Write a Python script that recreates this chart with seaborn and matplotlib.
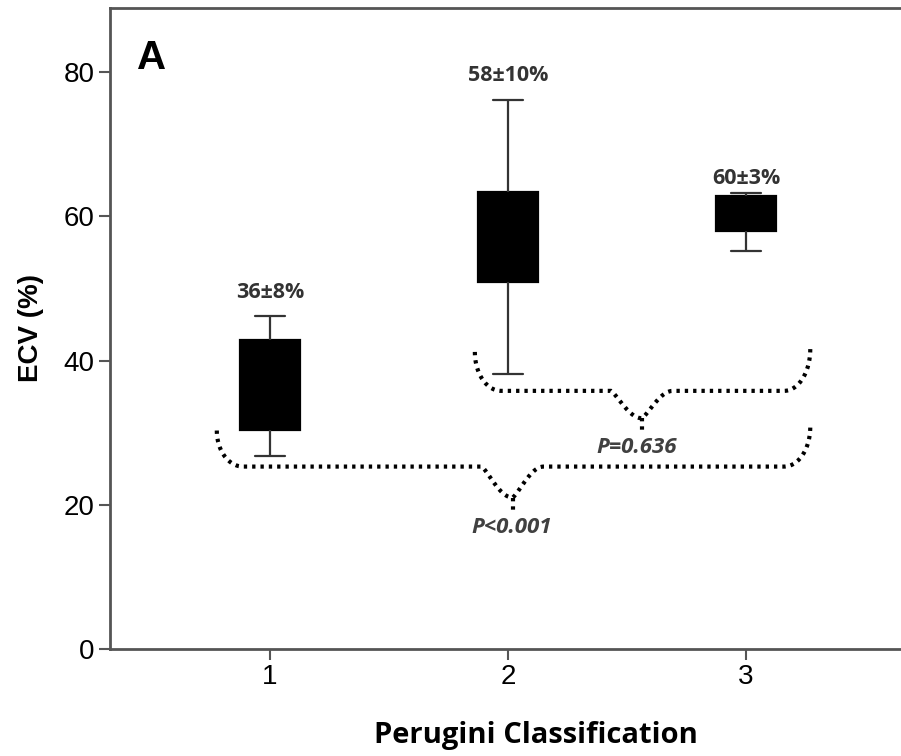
import numpy as np
import pandas as pd
import matplotlib
matplotlib.use("Agg")
import matplotlib.pyplot as plt
import seaborn as sns

# five-number summaries (whisker low, Q1, median, Q3, whisker high)
groups = ["1", "2", "3"]
whisker_low = [26.7, 38.2, 55.2]
q1 = [30.4, 50.9, 57.9]
median = [36.0, 57.0, 60.0]
q3 = [42.9, 63.4, 62.8]
whisker_high = [46.2, 76.2, 63.3]
mean_sd = ["36\u00b18%", "58\u00b110%", "60\u00b13%"]
p_values = ["P<0.001", "P=0.636"]

rows = []
for i, g in enumerate(groups):
    for v in (whisker_low[i], q1[i], median[i], q3[i], whisker_high[i]):
        rows.append({"Perugini": g, "ECV": v})
df = pd.DataFrame(rows)

sns.set_style("white")
plt.rcParams["font.family"] = ["Liberation Sans", "DejaVu Sans"]
plt.rcParams["text.color"] = "black"
plt.rcParams["axes.labelcolor"] = "black"
plt.rcParams["xtick.color"] = "black"
plt.rcParams["ytick.color"] = "black"
calibri_like = ["Open Sans", "DejaVu Sans"]

fig = plt.figure(figsize=(9.01, 7.56), dpi=100)
# the original panel runs past the right edge of the picture
ax = fig.add_axes([0.122, 0.1415, 0.9456, 0.848])

sns.boxplot(data=df, x="Perugini", y="ECV", order=groups, whis=(0, 100),
            width=0.252, color="black", linecolor="#333333", linewidth=1.6,
            showfliers=False, ax=ax,
            boxprops=dict(facecolor="black", edgecolor="black"),
            medianprops=dict(color="black"),
            capprops=dict(color="#333333"),
            whiskerprops=dict(color="#333333"))
# narrower caps
for line in ax.lines:
    xd = np.asarray(line.get_xdata(), dtype=float)
    yd = np.asarray(line.get_ydata(), dtype=float)
    if len(xd) == 2 and yd[0] == yd[1] and abs(xd[1] - xd[0]) > 0.05:
        c = xd.mean()
        if any(abs(yd[0] - w) < 1e-6 for w in whisker_low + whisker_high):
            line.set_xdata([c - 0.063, c + 0.063])

ax.set_xlim(-0.672, 2.907)
ax.set_ylim(0, 88.9)
ax.set_yticks([0, 20, 40, 60, 80])
ax.set_yticklabels(["0", "20", "40", "60", "80"])
ax.tick_params(axis="both", labelsize=20, length=8, width=1.5, color="#555555",
               labelcolor="black", direction="out", left=True, bottom=True, pad=3)
for s in ["left", "bottom", "top"]:
    ax.spines[s].set_visible(True)
    ax.spines[s].set_color("#555555")
    ax.spines[s].set_linewidth(2)
ax.spines["right"].set_visible(False)

ax.set_ylabel("ECV (%)", fontsize=20, fontweight="bold", labelpad=14)
ax.set_xlabel("Perugini Classification", fontsize=21, fontweight="bold",
              family=calibri_like, labelpad=22)

# mean +- sd labels above each box
offsets = [3.3, 3.4, 2.0]
for i, txt in enumerate(mean_sd):
    ax.text(i, whisker_high[i] + offsets[i], txt, ha="center", va="center",
            fontsize=15.5, fontweight="bold", color="#333333",
            family=calibri_like)

ax.text(-0.496, 82, "A", fontsize=29, fontweight="bold", ha="center", va="center")

dots = dict(color="black", lw=3, linestyle=(0, (0.8, 1.2)), dash_capstyle="butt")


def brace(x0, x1, xm, y_end0, y_end1, y_h, y_tip, rx=0.11, cw=0.13):
    t = np.linspace(np.pi, 1.5 * np.pi, 30)
    xs = list(x0 + rx + rx * np.cos(t))
    ys = list(y_end0 + (y_end0 - y_h) * np.sin(t))
    xs += [xm - cw]
    ys += [y_h]
    s = np.linspace(0, 1, 20)
    xs += list(xm - cw + cw * s)
    ys += list(y_h - (y_h - y_tip) * np.sin(s * np.pi / 2) ** 1.2)
    xs += list(xm + cw * s[1:])
    ys += list(y_tip + (y_h - y_tip) * np.sin(s[1:] * np.pi / 2) ** 1.2)
    xs += [x1 - rx]
    ys += [y_h]
    t = np.linspace(1.5 * np.pi, 2 * np.pi, 30)
    xs += list(x1 - rx + rx * np.cos(t))
    ys += list(y_end1 + (y_end1 - y_h) * np.sin(t))
    ax.plot(xs, ys, **dots)
    ax.plot([xm, xm], [y_tip, y_tip - 1.8], **dots)


brace(-0.223, 2.27, 1.02, 30.3, 30.8, 25.3, 21.0)
brace(0.861, 2.27, 1.563, 41.2, 41.6, 35.8, 32.0)

ax.text(1.017, 16.9, p_values[0], ha="center", va="center", fontsize=16,
        fontweight="bold", style="italic", color="#404040", family=calibri_like)
ax.text(1.542, 27.9, p_values[1], ha="center", va="center", fontsize=16,
        fontweight="bold", style="italic", color="#404040", family=calibri_like)

fig.savefig("out.png", dpi=100)
